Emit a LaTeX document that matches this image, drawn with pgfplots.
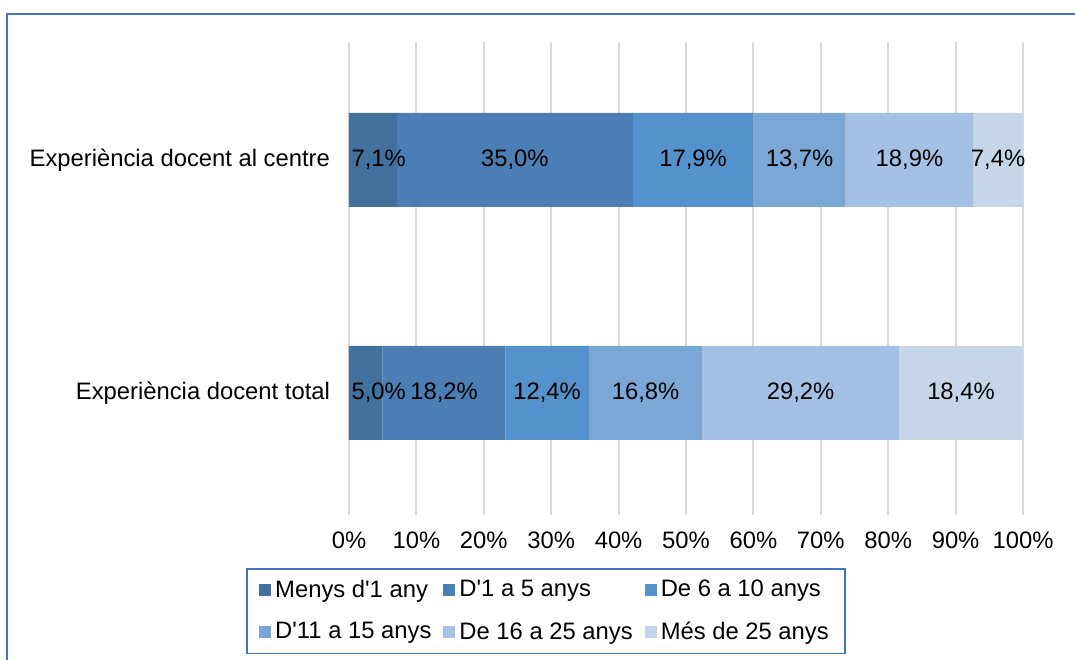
\documentclass[border=0pt]{standalone}
\usepackage{fontspec}
\setmainfont{Liberation Sans}[Ligatures=TeXOff]
\usepackage{pgfplots}
\pgfplotsset{compat=1.18}

\definecolor{c1}{RGB}{65,113,156}
\definecolor{c2}{RGB}{74,126,180}
\definecolor{c3}{RGB}{85,146,203}
\definecolor{c4}{RGB}{123,167,215}
\definecolor{c5}{RGB}{164,192,227}
\definecolor{c6}{RGB}{197,213,234}
\definecolor{framec}{RGB}{68,114,196}
\definecolor{gridc}{RGB}{217,217,217}

\newcommand{\chartfont}{\fontsize{11.9bp}{14bp}\selectfont}

\pgfplotsset{
  base/.style={
    at={(0,0)}, anchor=south west, scale only axis,
    width=337bp, height=236.5bp,
    xmin=0, xmax=100, ymin=-0.524, ymax=1.506,
    /pgf/number format/assume math mode=true,
  },
}

\begin{document}
\begin{tikzpicture}
\path[use as bounding box] (-174.5bp,-72.5bp) rectangle (363bp,257.5bp);
\draw[framec, line width=1.3bp] (-171bp,-80bp) -- (-171bp,250.5bp) -- (370bp,250.5bp);

\begin{axis}[
  base,
  xbar stacked, bar width=47bp,
  xtick={0,10,...,100},
  xticklabel={\pgfmathprintnumber{\tick}\%},
  ytick={0,1},
  yticklabels={Experiència docent total, Experiència docent al centre},
  tick label style={font=\chartfont},
  xticklabel style={yshift=-5bp},
  yticklabel style={xshift=-6bp},
  major tick length=0pt,
  axis line style={draw=none},
  xmajorgrids, grid style={gridc, line width=1bp},
  legend columns=3,
  legend style={at={(0.2923,-0.1121)}, anchor=north, draw=framec,
    line width=0.8bp, font=\chartfont, row sep=7bp,
    inner xsep=6bp, inner ysep=3.5bp,
    /tikz/every even column/.append style={column sep=4bp}},
  legend cell align=left,
  legend image code/.code={\fill[#1] (0bp,-3bp) rectangle (6bp,3bp);},
]
\addplot[fill=c1, draw=none] coordinates {(5.0,0) (7.1,1)};
\addplot[fill=c2, draw=none] coordinates {(18.2,0) (35.0,1)};
\addplot[fill=c3, draw=none] coordinates {(12.4,0) (17.9,1)};
\addplot[fill=c4, draw=none] coordinates {(16.8,0) (13.7,1)};
\addplot[fill=c5, draw=none] coordinates {(29.2,0) (18.9,1)};
\addplot[fill=c6, draw=none] coordinates {(18.4,0) (7.4,1)};
\legend{Menys d'1 any, D'1 a 5 anys, De 6 a 10 anys,
        D'11 a 15 anys, De 16 a 25 anys, Més de 25 anys}
\end{axis}

\begin{axis}[base, hide axis]
\addplot[draw=none, mark=none, point meta=explicit,
  nodes near coords={\pgfmathprintnumber[use comma,fixed,fixed zerofill,precision=1]{\pgfplotspointmeta}\%},
  every node near coord/.append style={anchor=center, font=\chartfont}]
  coordinates {
  (4.4,1) [7.1] (24.6,1) [35.0] (51.05,1) [17.9] (66.85,1) [13.7] (83.15,1) [18.9] (96.3,1) [7.4]
  (4.4,0) [5.0] (14.1,0) [18.2] (29.4,0) [12.4] (44.0,0) [16.8] (67.0,0) [29.2] (90.8,0) [18.4]
  };
\end{axis}
\end{tikzpicture}
\end{document}
